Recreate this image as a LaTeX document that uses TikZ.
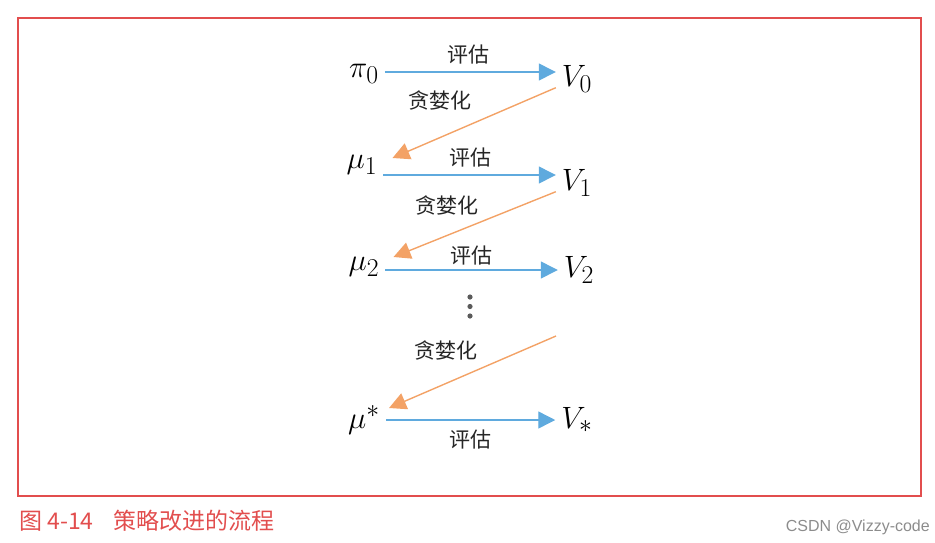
\documentclass[tikz,border=0pt]{standalone}
\usepackage{graphicx}
\usepackage{fontspec}
\usepackage{amsmath}
\newfontfamily\cjk{Noto Sans CJK SC}
\newfontfamily\wmfont{Liberation Sans}
\usetikzlibrary{arrows.meta}
\definecolor{evalblue}{RGB}{95,170,222}
\definecolor{greedyorange}{RGB}{243,162,102}
\definecolor{framered}{RGB}{226,78,78}
\definecolor{dotgray}{RGB}{90,90,90}
\newcommand{\stsym}[1]{\scalebox{1.24}{$#1$}}
\tikzset{
  state/.style={inner xsep=6pt,inner ysep=1pt,font=\fontsize{24.88}{27}\selectfont},
  lbl/.style={inner sep=1pt,font=\cjk\fontsize{21}{23}\selectfont,text=black!85},
  evalarrow/.style={draw=evalblue,line width=1.4pt,-{Triangle[length=17pt,width=17pt]},evalblue},
  greedyarrow/.style={draw=greedyorange,line width=1.4pt,-{Triangle[length=17pt,width=17pt]},greedyorange},
}

\begin{document}
\begin{tikzpicture}[x=1pt,y=-1pt]
\useasboundingbox (0,0) rectangle (935,542);
\draw[framered,line width=1.1pt] (18,18) rectangle (921,496);

% policies and values
\node[state] (p0) at (364,74) {\stsym{\pi_0}};
\node[state] (v0) at (577,79) {\stsym{V_0}};
\node[state] (m1) at (362,165) {\stsym{\mu_1}};
\node[state] (v1) at (577,183) {\stsym{V_1}};
\node[state] (m2) at (364,267) {\stsym{\mu_2}};
\node[state] (v2) at (579,270) {\stsym{V_2}};
\node[state] (ms) at (364,420) {\stsym{\mu^{*}}};
\node[state] (vs) at (577,420) {\stsym{V_{*}}};

% evaluation
\draw[evalarrow] ([yshift=2pt]p0.east) -- ([yshift=2pt]p0.east -| v0.west);
\draw[evalarrow] ([yshift=-10pt]m1.east) -- ([yshift=-10pt]m1.east -| v1.west);
\draw[evalarrow] ([yshift=-3pt]m2.east) -- ([yshift=-3pt]m2.east -| v2.west);
\draw[evalarrow] (ms.east) -- (ms.east -| vs.west);
\node[lbl] (e0) at (468,55) {评估};
\node[lbl] (e1) at (470,158) {评估};
\node[lbl] (e2) at (471,256) {评估};
\node[lbl] (e3) at (470,440) {评估};

% greedy improvement
\coordinate (g2start) at (556,336);
\draw[greedyarrow] ([yshift=6pt]v0.south west) -- ([shift={(9pt,7pt)}]m1.east);
\draw[greedyarrow] ([yshift=6pt]v1.south west) -- ([shift={(8pt,10pt)}]m2.east);
\draw[greedyarrow] (g2start) -- ([shift={(3pt,12pt)}]ms.east);
\node[lbl] (g0) at (440,100) {贪婪化};
\node[lbl] (g1) at (447,205) {贪婪化};
\node[lbl] (g2) at (446,350) {贪婪化};

% dots
\fill[dotgray] (470,297) circle (2.6) (470,306.5) circle (2.6) (470,316) circle (2.6);

% caption
\node[anchor=west,inner sep=0pt,text=framered,font=\cjk\fontsize{23}{25}\selectfont] (cap) at (19,521) {图 4-14\hspace{20pt}策略改进的流程};
\node[anchor=east,inner sep=0pt,text=black!45,font=\wmfont\fontsize{16}{18}\selectfont] (wm) at (930,527) {CSDN @Vizzy-code};
\end{tikzpicture}
\end{document}
